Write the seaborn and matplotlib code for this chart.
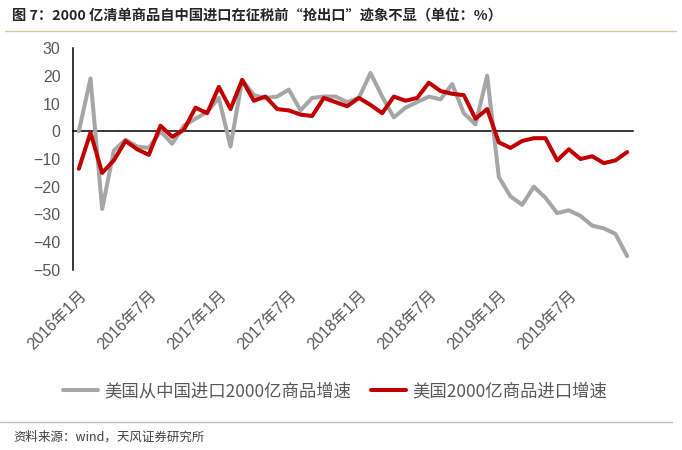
import numpy as np
import pandas as pd
import matplotlib
matplotlib.use("Agg")
import matplotlib.pyplot as plt
from matplotlib.lines import Line2D
import seaborn as sns

# ---- data ----
series_names = ["美国从中国进口2000亿商品增速", "美国2000亿商品进口增速"]
gray_vals = [0, 19, -28, -7, -3, -5.5, -6, 0, -4.5, 2, 4.5, 7,
             12, -5.5, 18.5, 13, 12, 12.5, 15, 7.5, 12, 12.5, 12.5, 10.5,
             12, 21, 12.5, 5, 8.5, 10.5, 12.5, 11.5, 17, 6.5, 2.5, 20,
             -16.5, -23.5, -26.5, -20, -24, -29.5, -28.5, -30.5, -34, -35, -37, -45]
red_vals = [-13.5, -0.5, -15, -10.5, -3.5, -6.5, -8.5, 2, -2, 0.5, 8.5, 6.5,
            16, 8, 18.5, 11, 12.5, 8, 7.5, 6, 5.5, 12, 10.5, 9,
            12, 9.5, 6.5, 12.5, 11, 12, 17.5, 14.5, 13.5, 13, 4.5, 8,
            -4, -6, -3.5, -2.5, -2.5, -10.5, -6.5, -10, -9, -11.5, -10.5, -7.5]
tick_labels = ["2016年1月", "2016年7月", "2017年1月", "2017年7月",
               "2018年1月", "2018年7月", "2019年1月", "2019年7月"]
y_ticks = [-50, -40, -30, -20, -10, 0, 10, 20, 30]
title = "图 7：2000 亿清单商品自中国进口在征税前“抢出口”迹象不显（单位：%）"
source = "资料来源：wind，天风证券研究所"

n = len(gray_vals)
idx = list(range(n))
df = pd.DataFrame({
    "idx": idx + idx,
    "val": gray_vals + red_vals,
    "series": [series_names[0]] * n + [series_names[1]] * n,
})

sns.set_style("white")
plt.rcParams["font.family"] = ["Liberation Sans", "Noto Sans CJK SC", "DejaVu Sans"]
plt.rcParams["axes.unicode_minus"] = True

W, H = 682, 450
fig = plt.figure(figsize=(W / 100, H / 100), dpi=100)
fig.patch.set_facecolor("white")
ax = fig.add_axes([73 / W, (H - 270) / H, 560 / W, 222 / H])

sns.lineplot(data=df, x="idx", y="val", hue="series",
             palette=["#A6A6A6", "#C00000"], linewidth=2.9,
             ax=ax, legend=True, zorder=3)

ax.set_xlim(-0.5, n - 0.5)
ax.set_ylim(-50, 30)
ax.set_xlabel("")
ax.set_ylabel("")

for s in ["top", "right"]:
    ax.spines[s].set_visible(False)
for s in ["left", "bottom"]:
    ax.spines[s].set_color("black")
    ax.spines[s].set_linewidth(1.1)
ax.spines["bottom"].set_position(("data", 0))

# tick marks every 6 categories on the zero line
ax.set_xticks(np.arange(-0.5, n, 6))
ax.set_xticklabels([])
ax.tick_params(axis="x", direction="in", length=5, width=1, color="black")

ax.set_yticks(y_ticks)
ax.tick_params(axis="y", direction="in", length=5, width=1, color="black",
               pad=9, labelsize=11.5, labelcolor="#595959")

# category labels at the bottom
sec = ax.secondary_xaxis("bottom")
sec.set_xticks(idx[::6])
sec.set_xticklabels(tick_labels, rotation=45, ha="right", va="top",
                    rotation_mode="anchor", fontsize=11.5, color="#595959")
sec.tick_params(length=0, pad=13)
for s in sec.spines.values():
    s.set_visible(False)

# legend
handles, labels = ax.get_legend_handles_labels()
ax.get_legend().remove()
fig.legend(handles, labels, loc="center", bbox_to_anchor=(335 / W, 1 - 391 / H),
           ncol=2, frameon=False, handlelength=2.0, handletextpad=0.37,
           columnspacing=1.15, prop={"family": ["Noto Sans CJK SC"], "size": 12.5},
           labelcolor="#595959")

# title, rules, source
fig.text(12 / W, 1 - 15.5 / H, title, fontsize=10.3, fontweight="bold",
         family=["Noto Sans CJK SC"], va="center", ha="left", color="#262626")
fig.add_artist(Line2D([5 / W, 676 / W], [1 - 31 / H] * 2, color="#D8C79C", lw=1))
fig.add_artist(Line2D([0 / W, 672 / W], [1 - 422 / H] * 2, color="#BFBFBF", lw=1))
fig.text(13 / W, 1 - 437 / H, source, fontsize=9, family=["Noto Sans CJK SC"],
         va="center", ha="left", color="#404040")

fig.savefig("out.png", dpi=100, facecolor="white")
